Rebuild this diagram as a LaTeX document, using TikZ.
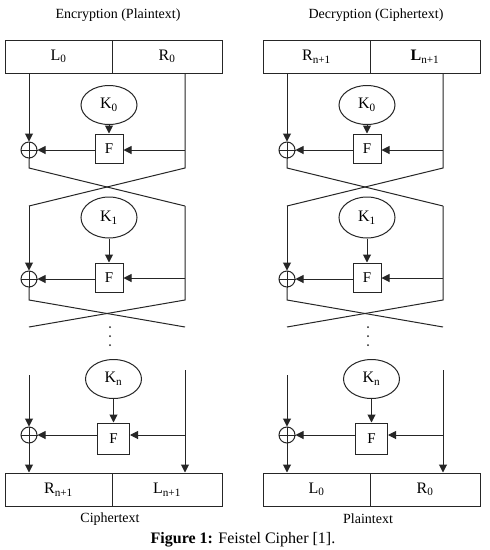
\documentclass[tikz,border=0pt]{standalone}
\usepackage{fontspec}
\setmainfont{Liberation Serif}
\usetikzlibrary{arrows.meta,shapes.geometric}
\tikzset{
  ln/.style={draw=black!85, line width=1pt},
  arr/.style={ln, -{Triangle[length=8pt,width=8pt]}},
  half/.style={draw=black!85, line width=1pt, rectangle, minimum height=33pt, inner sep=0pt, font=\fontsize{16}{16}\selectfont},
  keynode/.style={draw=black!85, line width=1pt, ellipse, minimum width=56pt, minimum height=39pt, inner sep=0pt, font=\fontsize{16}{16}\selectfont},
  fnode/.style={draw=black!85, line width=1pt, rectangle, minimum width=28pt, minimum height=29pt, inner sep=0pt, font=\fontsize{15}{15}\selectfont},
  xornode/.style={draw=black!85, line width=1pt, circle, minimum size=16pt, inner sep=0pt},
  titletext/.style={font=\fontsize{14}{14}\selectfont},
  dotnode/.style={circle, fill=black!85, minimum size=2pt, inner sep=0pt},
}
\newcommand\feistelPanel[8]{%
  \begin{scope}[xshift=#1pt, name prefix=#2-]
    \node[titletext] (title) at (118,15) {#3};
    \node[half, minimum width=107pt] (topL) at (58.5,56.5) {#4};
    \node[half, minimum width=110pt] (topR) at (167,56.5) {#5};
    % round 0
    \node[keynode] (K0) at (109,105) {K\textsubscript{0}};
    \node[fnode] (F0) at (109,148.5) {F};
    \node[xornode] (X0) at (29,150) {};
    \draw[ln] (X0.north) -- (X0.south) (X0.west) -- (X0.east);
    \coordinate (r0) at (185,150);
    \coordinate (a1) at (29,168);
    \coordinate (b1) at (185,168);
    \coordinate (c1) at (29,206);
    \coordinate (d1) at (185,206);
    \draw[arr] (X0 |- topL.south) -- (X0.north);
    \draw[arr] (K0.south) -- (F0.north);
    \draw[arr] (r0) -- (F0.east |- r0);
    \draw[arr] (F0.west |- X0) -- (X0.east);
    \draw[ln] (X0.south) -- (a1) -- (d1);
    \draw[ln] (r0 |- topR.south) -- (b1) -- (c1);
    % round 1
    \node[keynode, minimum height=41pt] (K1) at (109,217.5) {K\textsubscript{1}};
    \node[fnode] (F1) at (109,277.5) {F};
    \node[xornode] (X1) at (29,279) {};
    \draw[ln] (X1.north) -- (X1.south) (X1.west) -- (X1.east);
    \coordinate (r1) at (185,278);
    \coordinate (a2) at (29,300);
    \coordinate (b2) at (185,300);
    \coordinate (c2) at (29,327);
    \coordinate (d2) at (185,327);
    \draw[arr] (c1) -- (X1.north);
    \draw[arr] (K1.south) -- (F1.north);
    \draw[arr] (r1) -- (F1.east |- r1);
    \draw[arr] (F1.west |- X1) -- (X1.east);
    \draw[ln] (X1.south) -- (a2) -- (d2);
    \draw[ln] (d1) -- (b2) -- (c2);
    % dots
    \node[dotnode] (dA) at (110,327) {};
    \node[dotnode] (dB) at (110,336) {};
    \node[dotnode] (dC) at (110,345) {};
    % round n
    \node[keynode] (Kn) at (113.5,379) {K\textsubscript{n}};
    \node[fnode, minimum width=32pt, minimum height=31pt] (Fn) at (113.5,438.5) {F};
    \node[xornode] (Xn) at (29,435) {};
    \draw[ln] (Xn.north) -- (Xn.south) (Xn.west) -- (Xn.east);
    \coordinate (c3) at (29,375);
    \coordinate (d3) at (185,370);
    \coordinate (rn) at (185,435);
    \node[half, minimum width=107pt] (botL) at (58.5,489.5) {#6};
    \node[half, minimum width=110pt] (botR) at (167,489.5) {#7};
    \draw[arr] (c3) -- (Xn.north);
    \draw[arr] (Kn.south) -- (Fn.north);
    \draw[ln] (d3) -- (rn);
    \draw[arr] (rn) -- (Fn.east |- rn);
    \draw[arr] (Fn.west |- Xn) -- (Xn.east);
    \draw[arr] (Xn.south) -- (Xn |- botL.north);
    \draw[arr] (rn) -- (rn |- botR.north);
    \node[titletext] (cap) at (110,519) {#8};
  \end{scope}%
}
\begin{document}
\begin{tikzpicture}[x=1pt,y=-1pt]
  \useasboundingbox[fill=white] (0,0) rectangle (490,550);
  \feistelPanel{0}{E}{Encryption (Plaintext)}{L\textsubscript{0}}{R\textsubscript{0}}{R\textsubscript{n+1}}{L\textsubscript{n+1}}{Ciphertext}
  \feistelPanel{258}{D}{Decryption (Ciphertext)}{R\textsubscript{n+1}}{\textbf{L}\textsubscript{n+1}}{L\textsubscript{0}}{R\textsubscript{0}}{Plaintext}
  \node[font=\fontsize{16}{16}\selectfont] (figcap) at (243,540) {\textbf{Figure 1:} Feistel Cipher [1].};
\end{tikzpicture}
\end{document}
